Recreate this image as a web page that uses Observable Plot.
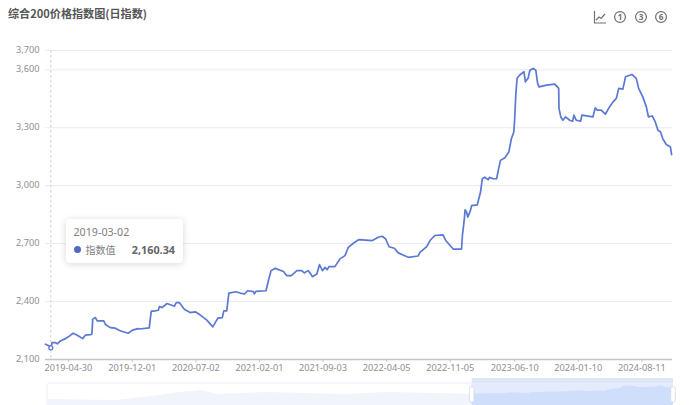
<!DOCTYPE html>
<html lang="zh">
<head>
<meta charset="utf-8">
<script src="https://cdn.jsdelivr.net/npm/d3@7"></script>
<script src="https://cdn.jsdelivr.net/npm/@observablehq/plot@0.6"></script>
<style>
html,body{margin:0;padding:0;background:#fff;width:692px;height:405px;overflow:hidden;font-family:"Noto Sans","Noto Sans CJK SC",sans-serif}
#wrap{position:relative;width:692px;height:405px}
#chart,#mini{position:absolute;left:0}
#chart{top:0}
#mini{top:378px}
#title{position:absolute;left:8px;top:5px;font:700 11.1px/17px "Noto Sans CJK SC",sans-serif;color:#555;white-space:nowrap}
#icons{position:absolute;left:590px;top:8px}
#tip{position:absolute;left:66px;top:219px;width:117px;height:44px;background:#fff;border-radius:4px;box-shadow:0 1px 7px rgba(0,0,0,.16);color:#808080}
#tip .d{position:absolute;left:7.5px;top:5px;font-size:10.7px;line-height:16px}
#tip .dot{position:absolute;left:7.5px;top:27px;width:7px;height:7px;border-radius:50%;background:#5068c4}
#tip .n{position:absolute;left:19.5px;top:22.5px;font:10px/16px "Noto Sans CJK SC",sans-serif}
#tip .v{position:absolute;right:8px;top:22.5px;font-size:10.8px;line-height:16px;font-weight:700;color:#666}
svg{display:block}
</style>
</head>
<body>
<div id="wrap">
  <div id="chart"></div>
  <div id="mini"></div>
  <div id="title"></div>
  <svg id="icons" width="80" height="20" viewBox="0 0 80 20" fill="none" stroke="#707070" stroke-width="1.2">
    <path d="M4.5 3v12h11.5M6 12l3-3 2 1.5 4-4.5"/>
    <circle cx="30" cy="9" r="5.4"/><circle cx="51" cy="9" r="5.4"/><circle cx="71" cy="9" r="5.4"/>
    <g fill="#707070" stroke="none" font-size="8.2" font-weight="700" text-anchor="middle" font-family="Noto Sans">
      <text x="30" y="11.9">1</text><text x="51" y="11.9">3</text><text x="71" y="11.9">6</text>
    </g>
  </svg>
  <div id="tip"><div class="d"></div><div class="dot"></div><div class="n"></div><div class="v"></div></div>
</div>
<script>
const titleText = "综合200价格指数图(日指数)";
const seriesName = "指数值";
const startDay = new Date(Date.UTC(2019, 1, 12));
const endDayOffset = 2110;
const yTicks = [2100, 2400, 2700, 3000, 3300, 3600, 3700];
const xTickLabels = ["2019-04-30","2019-12-01","2020-07-02","2021-02-01","2021-09-03","2022-04-05","2022-11-05","2023-06-10","2024-01-10","2024-08-11"];
const tipDayOffset = 18, tipValue = 2160.34, tipLabel = "2019-03-02";

// days since startDay
const dayOffsets = [0,13,18,22,34,40,50,67,81,93,107,125,134,151,156,159,168,174,196,202,218,235,249,278,293,311,316,349,353,356,367,380,383,392,409,434,440,450,468,487,504,521,543,563,580,595,600,610,617,641,655,670,680,700,703,708,742,750,759,773,801,812,827,846,862,871,883,890,898,913,922,932,941,948,954,974,991,1008,1019,1036,1055,1100,1120,1133,1145,1156,1174,1187,1221,1254,1260,1283,1294,1310,1338,1347,1372,1400,1403,1409,1412,1417,1421,1430,1434,1453,1464,1470,1478,1490,1494,1506,1518,1525,1531,1546,1559,1568,1576,1579,1583,1587,1596,1610,1615,1624,1630,1641,1650,1656,1661,1686,1714,1727,1728,1734,1741,1750,1764,1774,1778,1786,1801,1805,1842,1850,1857,1870,1884,1898,1910,1921,1929,1943,1952,1973,1988,1996,2010,2022,2029,2042,2052,2061,2070,2077,2089,2103,2107];
const indexValues = [2179,2170,2160,2187,2187,2181,2196,2208,2222,2236,2226,2208,2226,2229,2231,2309,2317,2300,2300,2281,2265,2262,2250,2236,2252,2260,2258,2264,2316,2351,2351,2355,2374,2369,2390,2376,2395,2395,2359,2343,2347,2330,2304,2269,2314,2317,2352,2352,2444,2451,2444,2439,2456,2451,2440,2453,2456,2508,2560,2572,2556,2534,2534,2560,2560,2548,2560,2549,2529,2543,2591,2560,2577,2565,2581,2581,2621,2638,2681,2702,2721,2716,2733,2738,2724,2684,2676,2652,2629,2636,2655,2684,2716,2742,2745,2716,2672,2672,2742,2820,2875,2863,2837,2871,2897,2901,2967,3036,3044,3031,3043,3036,3036,3088,3131,3145,3174,3244,3278,3348,3478,3556,3573,3590,3538,3556,3598,3607,3598,3530,3512,3521,3526,3504,3400,3356,3339,3356,3339,3334,3365,3339,3334,3365,3356,3403,3391,3391,3370,3408,3434,3452,3504,3500,3564,3576,3556,3504,3460,3408,3356,3361,3330,3287,3278,3244,3213,3200,3161];

// earlier history shown only in the overview strip
const historyDays = [-4452,-3728,-3276,-3066,-2825,-2678,-2153,-1323,-903];
const historyValues = [1235,1058,1940,2469,2822,2116,2469,2116,2469];

const toDate = d => d3.utcDay.offset(startDay, d);
const mainData = dayOffsets.map((d, i) => ({date: toDate(d), value: indexValues[i]}));
const tickDates = xTickLabels.map(s => d3.utcParse("%Y-%m-%d")(s));
const tipDate = toDate(tipDayOffset);

const chart = Plot.plot({
  width: 692, height: 405,
  marginLeft: 45, marginRight: 20, marginTop: 50, marginBottom: 46,
  style: {background: "transparent", fontFamily: '"Noto Sans",sans-serif', fontSize: "9.2px"},
  x: {type: "utc", domain: [startDay, toDate(endDayOffset)]},
  y: {domain: [2100, 3700]},
  marks: [
    Plot.gridY(yTicks.slice(1), {stroke: "#e9ebef", strokeOpacity: 1, strokeWidth: 1}),
    Plot.axisY(yTicks, {tickSize: 0, tickPadding: 6, tickFormat: d3.format(","), color: "#8f8f8f", label: null, fontSize: 9.2, dy: -0.5}),
    Plot.ruleX([tipDate], {stroke: "#cfcfcf", strokeDasharray: "2.5,2.5", strokeWidth: 1}),
    Plot.ruleY([2100], {stroke: "#c4c4c4", strokeWidth: 1.3}),
    Plot.axisX(tickDates, {tickSize: 3, tickPadding: 2, stroke: "#c4c4c4", color: "#8f8f8f", tickFormat: d3.utcFormat("%Y-%m-%d"), label: null, fontSize: 9.2}),
    Plot.line(mainData, {x: "date", y: "value", stroke: "#5b78d2", strokeWidth: 1.7, curve: "linear", strokeLinejoin: "round"}),
    Plot.dot([{date: tipDate, value: tipValue}], {x: "date", y: "value", r: 2, fill: "#fff", stroke: "#5b78d2", strokeWidth: 1.3})
  ]
});
document.getElementById("chart").append(chart);

const miniData = historyDays.map((d, i) => ({d, v: historyValues[i]}))
  .concat(dayOffsets.map((d, i) => ({d, v: indexValues[i]})));
const selected = miniData.filter(p => p.d >= 0);
const miniTop = 4938, stripTop = 4056;
const mini = Plot.plot({
  width: 692, height: 28,
  marginLeft: 47, marginRight: 19, marginTop: 0, marginBottom: 0,
  style: {background: "transparent"},
  x: {domain: [-4452, endDayOffset], axis: null},
  y: {domain: [0, miniTop], axis: null},
  marks: [
    Plot.rect([0], {x1: -4452, x2: 0, y1: 0, y2: stripTop, stroke: "#e9edf4", fill: "#fff", rx: 2}),
    Plot.areaY(miniData, {x: "d", y: "v", fill: "#f1f4fa"}),
    Plot.rect([0], {x1: 0, x2: endDayOffset, y1: 0, y2: stripTop, fill: "#e3ebfc"}),
    Plot.rect([0], {x1: 0, x2: endDayOffset, y1: stripTop, y2: miniTop, fill: "#dfe6f6"}),
    Plot.areaY(selected, {x: "d", y: "v", fill: "#cfdefb"}),
    Plot.rect([0, endDayOffset], {x1: d => d - 24, x2: d => d + 24, y1: 700, y2: 3400, fill: "#fff", stroke: "#d3d8e2", strokeWidth: 0.8, rx: 2})
  ]
});
document.getElementById("mini").append(mini);

document.getElementById("title").textContent = titleText;
document.querySelector("#tip .d").textContent = tipLabel;
document.querySelector("#tip .n").textContent = seriesName;
document.querySelector("#tip .v").textContent = d3.format(",.2f")(tipValue);
</script>
</body>
</html>
